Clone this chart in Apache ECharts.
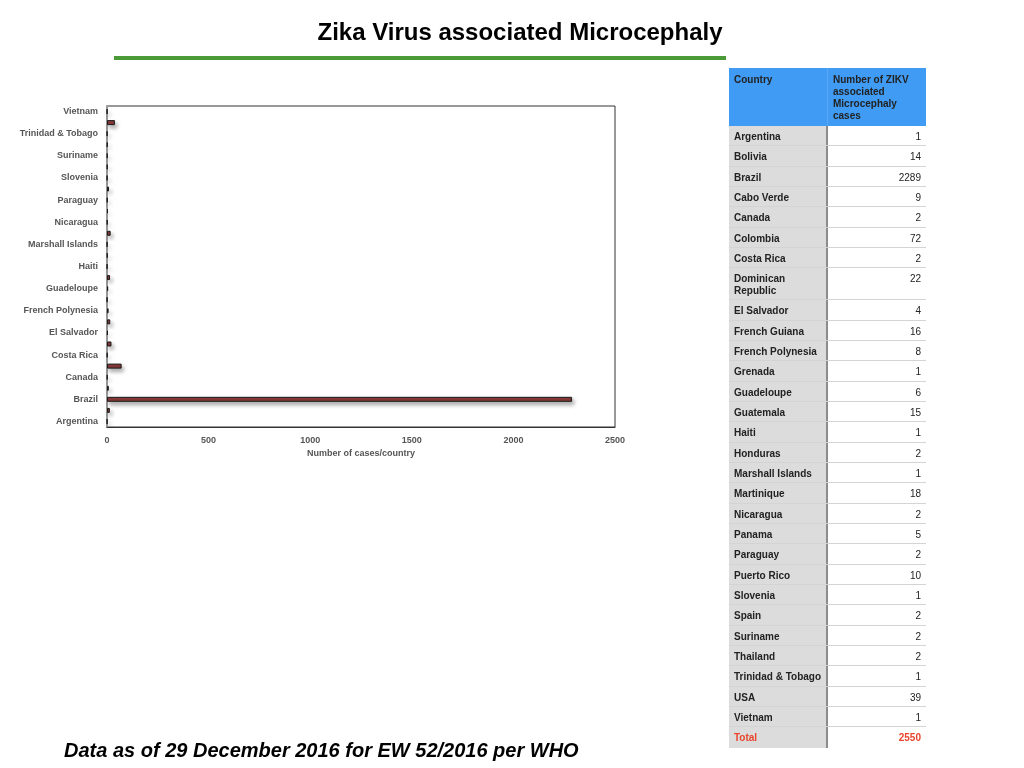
<!DOCTYPE html>
<html>
<head>
<meta charset="utf-8">
<script src="https://cdn.jsdelivr.net/npm/echarts@6/dist/echarts.min.js"></script>
<style>
html,body{margin:0;padding:0;background:#fff;}
#chart{position:absolute;left:0;top:0;width:1024px;height:768px;}
#tbl{position:absolute;left:729px;top:68px;width:197px;font-family:"Liberation Sans",Arial,sans-serif;font-size:10px;color:#222;}
#tbl .row{display:flex;box-sizing:border-box;height:20.34px;border-bottom:1px solid #d4d4d4;}
#tbl .c1{width:99px;box-sizing:border-box;padding:5px 0 0 5px;line-height:12px;background:#dcdcdc;border-right:2px solid #8c8c8c;font-weight:bold;white-space:nowrap;}
#tbl .c2{width:98px;box-sizing:border-box;padding:5px 5px 0 5px;line-height:12px;text-align:right;background:#fff;}
#tbl .head{height:58px;border-bottom:none;}
#tbl .head .c1,#tbl .head .c2{background:#3f9bf4;text-align:left;padding-top:6px;border-right:none;font-weight:bold;}
#tbl .head .c1{border-right:1px solid #5aa8f2;}
#tbl .tall{height:32px;}
#tbl .total{color:#e8452c;border-bottom:none;}
#tbl .total .c2{font-weight:bold;}
</style>
</head>
<body>
<div id="chart"></div>
<div id="tbl"></div>
<script>
// countries in table order (chart draws them bottom -> top)
var countries=['Argentina','Bolivia','Brazil','Cabo Verde','Canada','Colombia','Costa Rica','Dominican Republic','El Salvador','French Guiana','French Polynesia','Grenada','Guadeloupe','Guatemala','Haiti','Honduras','Marshall Islands','Martinique','Nicaragua','Panama','Paraguay','Puerto Rico','Slovenia','Spain','Suriname','Thailand','Trinidad & Tobago','USA','Vietnam'];
var cases=[1,14,2289,9,2,72,2,22,4,16,8,1,6,15,1,2,1,18,2,5,2,10,1,2,2,2,1,39,1];
var totalCases=2550;
var xTicks=[0,500,1000,1500,2000,2500];
var headers=['Country','Number of ZIKV<br>associated<br>Microcephaly<br>cases'];

// table on the right
var h='<div class="row head"><div class="c1">'+headers[0]+'</div><div class="c2">'+headers[1]+'</div></div>';
for(var i=0;i<countries.length;i++){
	var tall=countries[i]=='Dominican Republic';
	var nm=tall?'Dominican<br>Republic':countries[i];
	h+='<div class="row'+(tall?' tall':'')+'"><div class="c1">'+nm+'</div><div class="c2">'+cases[i]+'</div></div>';
}
h+='<div class="row total"><div class="c1">Total</div><div class="c2">'+totalCases+'</div></div>';
document.getElementById('tbl').innerHTML=h;

var font='"Liberation Sans",Arial,sans-serif';
var axisFont={color:'#555',fontSize:9,fontWeight:'bold',fontFamily:font};

var myChart=echarts.init(document.getElementById('chart'));
myChart.setOption({
	animation:false,
	graphic:[
		{type:'text',x:520,y:21,style:{text:'Zika Virus associated Microcephaly',align:'center',fontSize:24,fontWeight:'bold',fontFamily:font,fill:'#000'}},
		{type:'rect',shape:{x:114,y:56,width:612,height:4},style:{fill:'#4b9a37'}},
		{type:'text',x:64,y:741,style:{text:'Data as of 29 December 2016 for EW 52/2016 per WHO',fontSize:20,fontWeight:'bold',fontStyle:'italic',fontFamily:font,fill:'#000'}}
	],
	grid:{left:107,right:409,top:106,bottom:341,show:true,borderColor:'#333',borderWidth:1,containLabel:false},
	xAxis:{
		type:'value',min:xTicks[0],max:xTicks[xTicks.length-1],interval:500,
		name:'Number of cases/country',nameLocation:'middle',nameGap:22,
		nameTextStyle:axisFont,
		axisLabel:Object.assign({margin:9,formatter:function(v){return String(v);}},axisFont),
		axisLine:{show:true,lineStyle:{color:'#333',width:1}},
		axisTick:{show:false},splitLine:{show:false}
	},
	yAxis:{
		type:'category',data:countries,
		axisLabel:Object.assign({interval:1,margin:9},axisFont),
		axisLine:{show:true,lineStyle:{color:'#9a9a9a',width:2}},
		axisTick:{show:false}
	},
	series:[{
		type:'bar',data:cases,barWidth:5,
		itemStyle:{color:'#8b3a3a',borderColor:'#1a1a1a',borderWidth:1,
			shadowColor:'rgba(0,0,0,0.35)',shadowBlur:4,shadowOffsetX:2,shadowOffsetY:3}
	}]
});
</script>
</body>
</html>
